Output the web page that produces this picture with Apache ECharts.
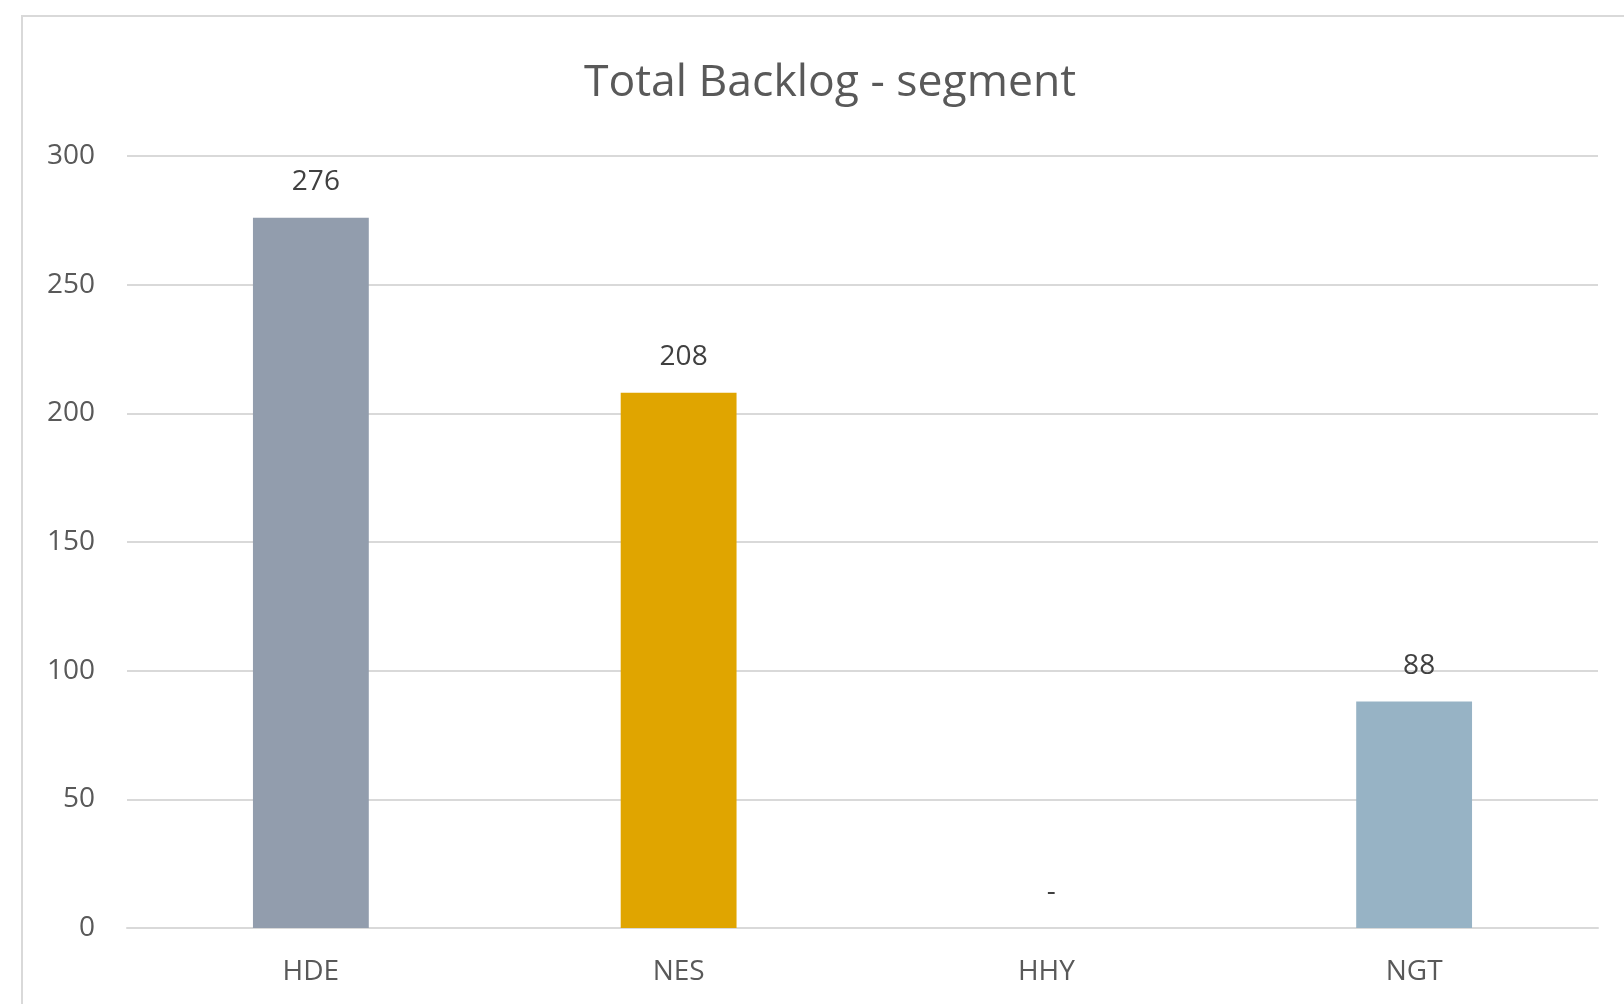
<!DOCTYPE html>
<html>
<head>
<meta charset="utf-8">
<script src="https://cdn.jsdelivr.net/npm/echarts@6/dist/echarts.min.js"></script>
<style>
html,body{margin:0;padding:0;background:#fff;}
#chart{width:1624px;height:1004px;}
</style>
</head>
<body>
<div id="chart"></div>
<script>
const titleText = 'Total Backlog - segment';
const categories = ['HDE', 'NES', 'HHY', 'NGT'];
const values = [276, 208, 0, 88];
const yTicks = { min: 0, max: 300, interval: 50 };

const palette = ['#929DAD', '#E0A500', '#A5A5A5', '#97B3C5'];
const FONT = '"Open Sans", "Liberation Sans", sans-serif';

const chart = echarts.init(document.getElementById('chart'));
chart.setOption({
  backgroundColor: '#ffffff',
  animation: false,
  graphic: [{
    type: 'rect',
    shape: { x: 22, y: 16, width: 1700, height: 1100 },
    style: { fill: 'none', stroke: '#D9D9D9', lineWidth: 2 },
    silent: true
  }],
  title: {
    text: titleText,
    left: 825,
    textAlign: 'center',
    top: 56,
    textStyle: { fontFamily: FONT, fontSize: 44.5, fontWeight: 'normal', color: '#595959' }
  },
  grid: { left: 127, right: 26, top: 156, bottom: 76, containLabel: false },
  xAxis: {
    type: 'category',
    data: categories,
    axisLine: { show: true, lineStyle: { color: '#D9D9D9', width: 2 } },
    axisTick: { show: false },
    axisLabel: { fontFamily: FONT, fontSize: 28, color: '#595959', margin: 30 }
  },
  yAxis: {
    type: 'value',
    min: yTicks.min, max: yTicks.max, interval: yTicks.interval,
    axisLine: { show: false },
    axisTick: { show: false },
    splitLine: { lineStyle: { color: '#D9D9D9', width: 2 } },
    axisLabel: { fontFamily: FONT, fontSize: 28, color: '#595959', margin: 32 }
  },
  series: [{
    type: 'bar',
    barWidth: '31.5%',
    data: values.map((v, i) => ({ value: v, itemStyle: { color: palette[i] } })),
    label: {
      show: true,
      position: 'top',
      distance: 22,
      offset: [5, 0],
      fontFamily: FONT,
      fontSize: 28,
      color: '#404040',
      formatter: p => (p.value === 0 ? '-' : String(p.value))
    }
  }]
});
</script>
</body>
</html>
